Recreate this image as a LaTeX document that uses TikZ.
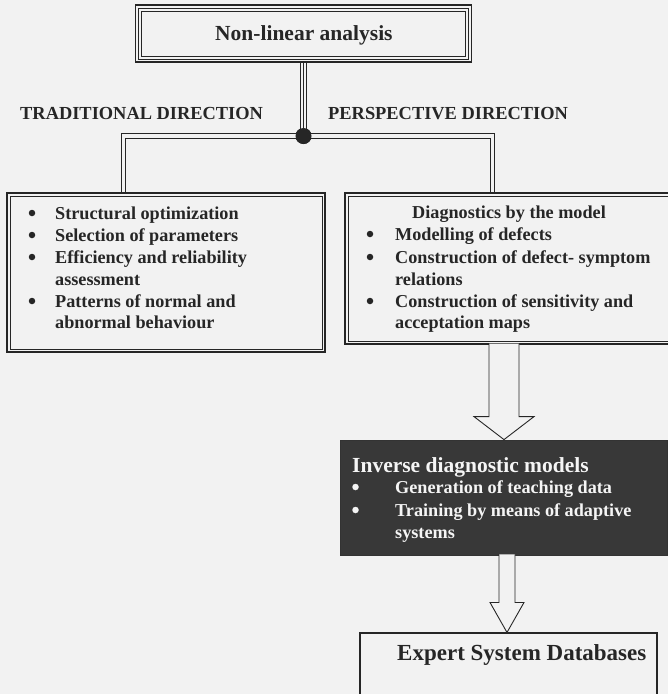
\documentclass[tikz,border=0pt]{standalone}
\usepackage{fontspec}
\setmainfont{Liberation Serif}
\usetikzlibrary{calc}
\definecolor{paper}{gray}{0.95}
\definecolor{ink}{gray}{0.15}
\begin{document}
\begin{tikzpicture}[x=1pt,y=-1pt,
  frame/.style={draw=ink, line width=1.8pt, inner sep=0pt},
  thinframe/.style={draw=ink, line width=0.8pt},
  bus/.style={draw=ink, line width=0.9pt, double=paper, double distance=3.5pt},
  hollow/.style={draw=ink, line width=0.9pt, fill=paper, line join=miter},
  txt/.style={font=\bfseries\fontsize{18.2}{22}\selectfont, anchor=base west, inner sep=0pt, text=ink},
  big/.style={txt, font=\bfseries\fontsize{21.5}{25}\selectfont},
  head/.style={txt, font=\bfseries\fontsize{18.4}{22}\selectfont},
  wtxt/.style={txt, text=gray!8},
  wbig/.style={big, text=gray!8},
  dot/.style={circle, fill=ink, minimum size=6.5pt, inner sep=0pt},
  wdot/.style={dot, fill=gray!8}
]
\fill[paper] (0,0) rectangle (668,694);
\useasboundingbox (0,0) rectangle (668,694);

% ---- boxes ----
\node[frame, minimum width=336pt, minimum height=57pt] (top) at (303.5,33.5) {};
\draw[thinframe] ($(top.north west)+(4,4)$) rectangle ($(top.south east)+(-4,-4)$);
\draw[thinframe] ($(top.north west)+(7,7)$) rectangle ($(top.south east)+(-7,-7)$);

\node[frame, minimum width=318pt, minimum height=159pt] (trad) at (166,272.5) {};
\draw[thinframe] ($(trad.north west)+(4,4)$) rectangle ($(trad.south east)+(-4,-4)$);

\node[frame, minimum width=327pt, minimum height=151pt] (diag) at (508.5,268.5) {};
\draw[thinframe] ($(diag.north west)+(4,4)$) rectangle ($(diag.south east)+(-4,-4)$);

\node[draw=black!80, fill=black!78, line width=0.8pt, inner sep=0pt,
      minimum width=327pt, minimum height=115pt] (inv) at (503.5,497.5) {};

\node[draw=ink, line width=1.1pt, inner sep=0pt,
      minimum width=297pt, minimum height=72pt] (exp) at (508.5,669) {};

% ---- hub and connectors ----
\node[circle, fill=ink, minimum size=16pt, inner sep=0pt] (hub) at (303.5,136) {};
\draw[bus] ($(trad.north west)+(117.5,0)$) |- (hub.center) -| ($(diag.north west)+(148.5,0)$);
\draw[ink, line width=0.9pt, double=paper, double distance=4.5pt] (top.south) -- (hub.center);
\draw[ink, line width=0.9pt] (top.south) -- (hub.center);
\node[circle, fill=ink, minimum size=16pt, inner sep=0pt] at (hub) {};

\coordinate (ax) at (504,0);
\filldraw[hollow, shift={(inv.north -| ax)}]
  (-15,-96) -- (-15,-23) -- (-30,-23) -- (0,0) -- (30,-23) -- (15,-23) -- (15,-96);
\coordinate (bx) at (507,0);
\filldraw[hollow, shift={(exp.north -| bx)}]
  (-8,-78) -- (-8,-30) -- (-17,-30) -- (0,0) -- (17,-30) -- (8,-30) -- (8,-78);

% ---- texts ----
\node[big] (title) at (215,40) {Non-linear analysis};
\node[head] (ltrad) at (20,119) {TRADITIONAL DIRECTION};
\node[head] (lpersp) at (328,119) {PERSPECTIVE DIRECTION};

\foreach \y/\n in {219/1,241/2,263/3,307/4}
  \node[dot] (tb\n) at (32,\y-6) {};
\node[txt] (t1) at (55,219) {Structural optimization};
\node[txt] (t2) at (55,241) {Selection of parameters};
\node[txt] (t3) at (55,263) {Efficiency and reliability};
\node[txt] (t3b) at (55,285) {assessment};
\node[txt] (t4) at (55,307) {Patterns of normal and};
\node[txt] (t4b) at (55,328) {abnormal behaviour};

\node[txt] (dh) at (412,218) {Diagnostics by the model};
\foreach \y/\n in {240/1,263/2,307/3}
  \node[dot] (db\n) at (370,\y-6) {};
\node[txt] (d1) at (395,240) {Modelling of defects};
\node[txt] (d2) at (395,263) {Construction of defect- symptom};
\node[txt] (d2b) at (395,285) {relations};
\node[txt] (d3) at (395,307) {Construction of sensitivity and};
\node[txt] (d3b) at (395,328) {acceptation maps};

\node[wbig] (ih) at (352,472) {Inverse diagnostic models};
\foreach \y/\n in {493/1,516/2}
  \node[wdot] (ib\n) at (355.5,\y-6) {};
\node[wtxt] (i1) at (395,493) {Generation of teaching data};
\node[wtxt] (i2) at (395,516) {Training by means of adaptive};
\node[wtxt] (i2b) at (395,538) {systems};

\node[txt, font=\bfseries\fontsize{23}{27}\selectfont] (et) at (397,660) {Expert System Databases};
\end{tikzpicture}
\end{document}
